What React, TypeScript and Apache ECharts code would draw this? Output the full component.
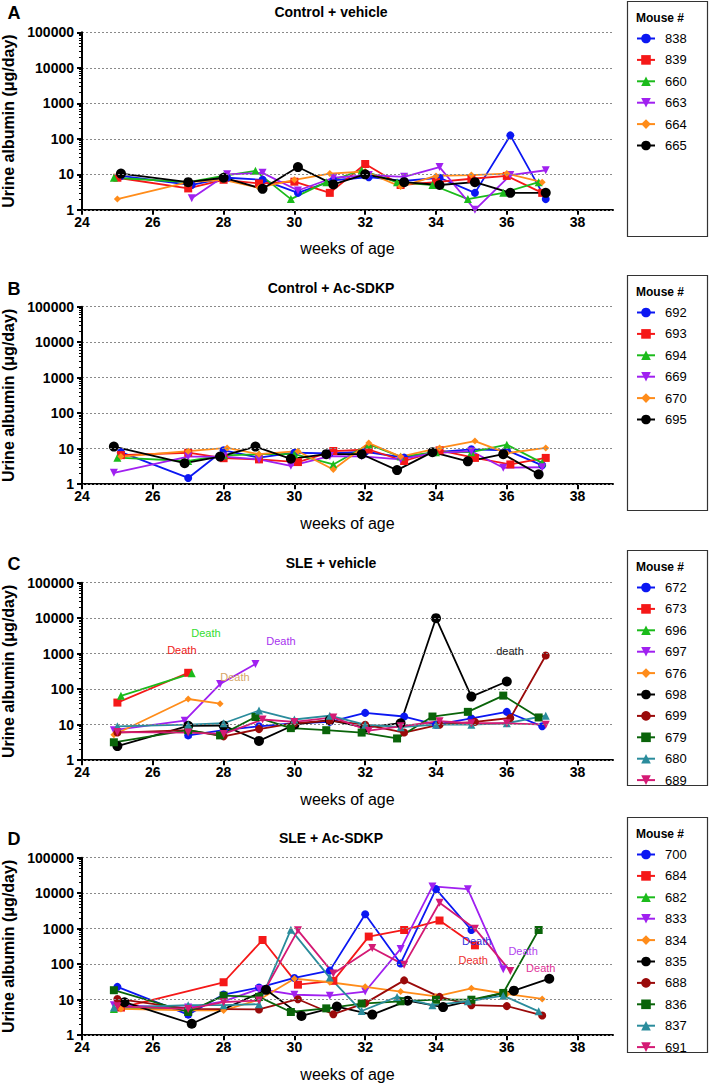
import { useEffect, useRef } from 'react';
import * as echarts from 'echarts';

// ---------- DATA ----------
const weekTicks = [24, 26, 28, 30, 32, 34, 36, 38];
const decadeStarts = [1, 10, 100, 1000, 10000];
const minorMultipliers = [2, 3, 4, 5, 6, 7, 8, 9];
const panelTitles = ['Control + vehicle', 'Control + Ac-SDKP', 'SLE + vehicle', 'SLE + Ac-SDKP'];
const panelLetters = ['A', 'B', 'C', 'D'];
const yAxisName = 'Urine albumin (μg/day)';
const xAxisName = 'weeks of age';
const legendTitle = 'Mouse #';

// Panel A: Control + vehicle
const idsA = ['838', '839', '660', '663', '664', '665'];
const a838 = [[25.1, 9], [27.1, 5], [28.1, 8], [29.1, 7], [30.1, 3], [31.1, 6.8], [32.1, 8.3], [33.1, 6.5], [34.1, 8], [35.1, 3], [36.1, 125], [37.1, 2]];
const a839 = [[25, 8], [27, 4], [28, 7], [29, 5.5], [30, 6.2], [31, 3], [32, 19.5], [33, 5], [34, 6], [35, 7.5], [36, 9], [37, 3]];
const a660 = [[24.9, 8], [27, 6], [28, 9], [28.9, 12.5], [29.9, 2], [30.9, 6], [31.9, 13], [32.9, 6], [33.9, 5], [34.9, 2], [35.9, 3], [36.9, 6]];
const a663 = [[27.1, 2.1], [28.1, 10], [29.1, 11], [30.1, 3.5], [31.1, 8], [32.1, 9.5], [33.1, 8.5], [34.1, 16], [35.1, 1], [36.1, 9.5], [37.1, 13]];
const a664 = [[25, 2], [27, 6], [28, 7], [29, 4.2], [30, 7], [31, 10.5], [32, 12], [33, 4.5], [34, 9], [35, 9.5], [36, 10.5], [37, 6]];
const a665 = [[25.1, 10.5], [27, 6], [28, 8], [29.1, 3.9], [30.1, 16], [31.1, 5.2], [32, 10], [33.1, 6], [34.1, 5], [35.1, 6], [36.1, 3], [37.1, 3]];
const seriesA = [a838, a839, a660, a663, a664, a665];

// Panel B: Control + Ac-SDKP
const idsB = ['692', '693', '694', '669', '670', '695'];
const b692 = [[25.1, 8], [27, 1.5], [28, 9], [29, 5.6], [30, 7.7], [31, 7.4], [32, 8.2], [33.1, 5.6], [34, 8], [35, 9.6], [36, 9], [37, 3.4]];
const b693 = [[25.1, 6.6], [27, 7.7], [28, 5.4], [29, 5], [30.1, 4.2], [31.1, 8.6], [32.1, 9.5], [33.1, 4.5], [34.1, 9], [35.1, 5.5], [36.1, 3.6], [37.1, 5.5]];
const b694 = [[25, 5.6], [27, 4.5], [28, 6.5], [29, 7], [30, 7], [31.1, 3.6], [32.1, 13.2], [33, 6], [34, 8], [35, 8], [36, 13], [37, 4]];
const b669 = [[24.9, 2.1], [27, 6], [28, 6], [29, 5], [29.9, 3.3], [31, 6.2], [31.9, 6.1], [33, 5], [33.9, 7.5], [35, 8.5], [35.9, 2.9], [37, 3]];
const b670 = [[25.1, 6], [27, 8.5], [28.1, 10.5], [29, 7], [30.1, 8.5], [31.1, 2.6], [32.1, 14.5], [33, 6], [34.1, 10.5], [35.1, 16.4], [36, 7.5], [37.1, 10.5]];
const b695 = [[24.9, 11.5], [26.9, 3.9], [27.9, 6], [28.9, 11.5], [29.9, 5.2], [30.9, 7], [31.9, 7], [32.9, 2.5], [33.9, 8], [34.9, 4.4], [35.9, 7], [36.9, 1.9]];
const seriesB = [b692, b693, b694, b669, b670, b695];

// Panel C: SLE + vehicle
const idsC = ['672', '673', '696', '697', '676', '698', '699', '679', '680', '689'];
const c672 = [[27, 5], [28, 7], [29, 9], [30, 11], [31, 12], [32, 21.5], [33.1, 17], [34, 10], [35, 15], [36, 23], [37, 9]];
const c673 = [[25, 42], [27, 290]];
const c696 = [[25.1, 65], [27.1, 280]];
const c697 = [[24.9, 7], [26.9, 13], [27.9, 140], [28.9, 510]];
const c676 = [[24.9, 5.2], [27, 53], [27.9, 39]];
const c698 = [[25, 2.5], [27, 9.3], [28, 9.5], [29, 3.5], [30, 10], [31, 13.5], [32, 8.3], [33, 11], [34, 10000], [35, 62], [36, 165]];
const c699 = [[25, 6], [27, 7], [28, 4.7], [29, 7.5], [30, 11], [31, 13], [32, 10], [33.1, 6], [34.1, 10], [35.1, 12], [36.1, 15.5], [37.1, 890]];
const c679 = [[24.9, 3.2], [27, 7], [27.9, 5], [28.9, 16.5], [29.9, 8], [30.9, 7], [31.9, 6], [32.9, 4.1], [33.9, 17], [34.9, 23], [35.9, 66], [36.9, 16]];
const c680 = [[25, 9], [27, 10], [28, 11], [29, 25], [30, 14], [31, 18], [32, 10], [33, 8.5], [34, 10], [35, 10], [36, 11], [37.1, 18]];
const c689 = [[25, 6.2], [27, 6], [28, 5.5], [29.1, 14], [30, 12], [31.1, 16], [32.1, 6.8], [33, 9], [34.1, 12.5], [35, 11], [36, 11], [37.1, 10]];
const seriesC = [c672, c673, c696, c697, c676, c698, c699, c679, c680, c689];

// Panel D: SLE + Ac-SDKP
const idsD = ['700', '684', '682', '833', '834', '835', '688', '836', '837', '691'];
const d700 = [[25, 23], [27, 3.8], [28, 14], [29, 22], [30, 41], [31, 66], [32, 2550], [33, 105], [34, 13000], [35, 920]];
const d684 = [[25.1, 6], [28, 31], [29.1, 480], [30.1, 26.5], [31.1, 34], [32.1, 600], [33.1, 920], [34.1, 1700], [35.1, 340]];
const d682 = [[24.9, 5.5], [27, 6]];
const d833 = [[24.9, 7], [27, 6], [28, 9], [29, 20], [30, 13.8], [31, 13], [32, 17], [33, 270], [33.9, 15500], [34.9, 13000], [35.9, 72]];
const d834 = [[25.1, 5.5], [27, 5], [28, 5], [29, 10], [30, 39], [31, 31], [32, 23], [33, 17], [34, 12.4], [35, 21], [36, 14.5], [37, 10.5]];
const d835 = [[25.2, 8.5], [27.1, 2.1], [29.2, 19], [30.2, 3.5], [31.2, 6.4], [32.2, 3.8], [33.2, 9.4], [34.2, 6.2], [36.2, 18], [37.2, 39]];
const d688 = [[25, 10.5], [27, 5.5], [29, 5.3], [30.1, 10.3], [31.1, 3.9], [32, 8], [33.1, 35], [34.1, 12], [35, 7], [36, 6.6], [37, 3.6]];
const d836 = [[24.9, 18.5], [27, 4.5], [28, 13], [29, 12], [29.9, 4.5], [30.9, 5.7], [31.9, 7.8], [33, 9], [34, 10], [35, 10], [35.9, 15.5], [36.9, 920]];
const d837 = [[24.9, 6], [27, 7], [28, 7], [29, 7.5], [29.9, 940], [31, 42], [31.9, 4.8], [32.9, 12], [33.9, 7], [34.9, 9], [35.9, 13], [36.9, 4.7]];
const d691 = [[25, 6.5], [27, 5.5], [28, 8.5], [29, 9.5], [30.1, 900], [31.1, 55], [32.2, 285], [33.1, 96], [34.1, 5400], [35.1, 1000], [36.1, 64]];
const seriesD = [d700, d684, d682, d833, d834, d835, d688, d836, d837, d691];

// Death annotations: [mouse id, week, value, text]
const deathC = [
  ['696', 27.5, 3900, 'Death'],
  ['673', 26.82, 1290, 'Death'],
  ['697', 29.62, 2300, 'Death'],
  ['676', 28.32, 225, 'Death'],
  ['698', 36.09, 1200, 'death'],
];
const deathD = [
  ['700', 35.15, 440, 'Death'],
  ['684', 35.05, 128, 'Death'],
  ['833', 36.46, 240, 'Death'],
  ['691', 36.96, 76, 'Death'],
];

// ---------- STYLES ----------
const COLORS = ['#0b17f2', '#f51818', '#1bbb1b', '#a020f0', '#ff8c1a', '#000000', '#9a0a0a', '#0a640a', '#2a8c9c', '#d41a74'];
const SYMBOLS = ['circle', 'rect', 'triangle', 'triangle', 'diamond', 'circle', 'circle', 'rect', 'triangle', 'triangle'];
const ROTATES = [0, 0, 0, 180, 0, 0, 0, 0, 0, 180];
const SIZES = [8, 8, 8, 8, 7, 10, 8, 8, 8, 8];
const DEATH_COLORS: Record<string, string> = {
  C696: '#33dd33', C673: '#ee2020', C697: '#a733ee', C676: '#d6a565', C698: '#222222',
  D700: '#3333dd', D684: '#ee3030', D833: '#b244ee', D691: '#e0359a',
};

const FONT = 'Liberation Sans, Arial, Helvetica, sans-serif';
const GRID_LEFT = 82;
const GRID_W = 531;
const GRID_TOPS = [32.3, 306.7, 582.7, 857.7];
const GRID_H = 177.5;
const BOX_TOPS = [1, 275, 550, 817];
const BOX_H = 235;
const TITLE_Y = [12, 288, 563, 838];

export default function App() {
  const ref = useRef<HTMLDivElement>(null);

  useEffect(() => {
    document.body.style.margin = '0';
    if (!ref.current) return;
    const chart = echarts.init(ref.current, null, { renderer: 'svg' });

    const minorValues: number[] = [];
    decadeStarts.forEach((d) => minorMultipliers.forEach((m) => minorValues.push(d * m)));

    const panels = [
      { ids: idsA, data: seriesA, deaths: [] as any[], key: 'A' },
      { ids: idsB, data: seriesB, deaths: [] as any[], key: 'B' },
      { ids: idsC, data: seriesC, deaths: deathC, key: 'C' },
      { ids: idsD, data: seriesD, deaths: deathD, key: 'D' },
    ];

    const grid: any[] = [];
    const xAxis: any[] = [];
    const yAxis: any[] = [];
    const series: any[] = [];
    const legend: any[] = [];
    const graphic: any[] = [];

    panels.forEach((p, pi) => {
      grid.push({
        left: GRID_LEFT, top: GRID_TOPS[pi], width: GRID_W, height: GRID_H,
        containLabel: false, outerBoundsMode: 'none',
      });
      xAxis.push({
        gridIndex: pi,
        type: 'value',
        min: 24,
        max: 39,
        interval: 2,
        axisLine: { show: true, lineStyle: { color: '#000', width: 2 } },
        axisTick: { show: true, length: 5, lineStyle: { color: '#000', width: 2 }, customValues: weekTicks },
        axisLabel: { customValues: weekTicks, fontSize: 14, fontWeight: 'bold', color: '#000', margin: 5, fontFamily: FONT },
        splitLine: { show: false },
        name: xAxisName,
        nameLocation: 'middle',
        nameGap: 31,
        nameTextStyle: { fontSize: 16, color: '#000', fontFamily: FONT },
      });
      yAxis.push({
        gridIndex: pi,
        type: 'log',
        logBase: 10,
        min: 1,
        max: 100000,
        axisLine: { show: true, lineStyle: { color: '#000', width: 2 } },
        axisTick: { show: true, length: 5, lineStyle: { color: '#000', width: 2 } },
        axisLabel: {
          fontSize: 14, fontWeight: 'bold', color: '#000', margin: 8, fontFamily: FONT,
          formatter: (v: number) => String(Math.round(v)),
        },
        splitLine: { show: true, lineStyle: { type: [2, 2], color: '#8a8a8a', width: 1 } },
        name: yAxisName,
        nameLocation: 'middle',
        nameGap: 64,
        nameTextStyle: { fontSize: 16, fontWeight: 'bold', color: '#000', fontFamily: FONT },
        z: 3,
      });

      p.ids.forEach((id, si) => {
        const deaths = p.deaths.filter((d: any) => d[0] === id);
        const s: any = {
          name: id,
          type: 'line',
          xAxisIndex: pi,
          yAxisIndex: pi,
          data: p.data[si],
          symbol: SYMBOLS[si],
          symbolSize: SIZES[si],
          symbolRotate: ROTATES[si],
          itemStyle: { color: COLORS[si] },
          lineStyle: { color: COLORS[si], width: 1.8 },
          z: 2,
        };
        if (deaths.length) {
          s.markPoint = {
            symbol: 'circle',
            symbolSize: 0,
            silent: true,
            data: deaths.map((d: any) => ({
              coord: [d[1], d[2]],
              label: {
                show: true,
                position: 'inside',
                formatter: d[3],
                color: DEATH_COLORS[p.key + id],
                fontSize: 11,
                fontFamily: FONT,
              },
            })),
          };
        }
        series.push(s);
      });

      legend.push({
        orient: 'vertical',
        left: 636,
        top: BOX_TOPS[pi] + 31,
        padding: 0,
        itemWidth: 18,
        itemHeight: 12,
        itemGap: 8.4,
        selectedMode: false,
        data: p.ids,
        textStyle: { fontSize: 13, color: '#000', fontFamily: FONT, padding: [0, 0, 0, 5] },
      });

      graphic.push({
        type: 'rect',
        shape: { x: 627.5, y: BOX_TOPS[pi] + 0.5, width: 80, height: BOX_H },
        style: { fill: 'none', stroke: '#333', lineWidth: 1.2 },
        silent: true,
      });
      graphic.push({
        type: 'text',
        x: 636,
        y: BOX_TOPS[pi] + 17,
        style: { text: legendTitle, font: `bold 12px ${FONT}`, fill: '#000', align: 'left', verticalAlign: 'middle' },
        silent: true,
      });
      graphic.push({
        type: 'text',
        x: 331,
        y: TITLE_Y[pi],
        style: { text: panelTitles[pi], font: `bold 14px ${FONT}`, fill: '#000', align: 'center', verticalAlign: 'middle' },
        silent: true,
      });
      graphic.push({
        type: 'text',
        x: 14,
        y: TITLE_Y[pi] + 1,
        style: { text: panelLetters[pi], font: `bold 18px ${FONT}`, fill: '#000', align: 'center', verticalAlign: 'middle' },
        silent: true,
      });
    });

    // secondary y axes: minor log ticks only
    panels.forEach((_p, pi) => {
      yAxis.push({
        gridIndex: pi,
        type: 'log',
        logBase: 10,
        min: 1,
        max: 100000,
        position: 'left',
        axisLine: { show: false },
        axisTick: { show: true, length: 3, lineStyle: { color: '#000', width: 1 }, customValues: minorValues },
        axisLabel: { show: false },
        splitLine: { show: false },
      });
    });

    chart.setOption({
      animation: false,
      backgroundColor: '#fff',
      textStyle: { fontFamily: FONT },
      grid,
      xAxis,
      yAxis,
      series,
      legend,
      graphic,
    });

    return () => chart.dispose();
  }, []);

  return <div ref={ref} style={{ width: 709, height: 1085 }} />;
}
